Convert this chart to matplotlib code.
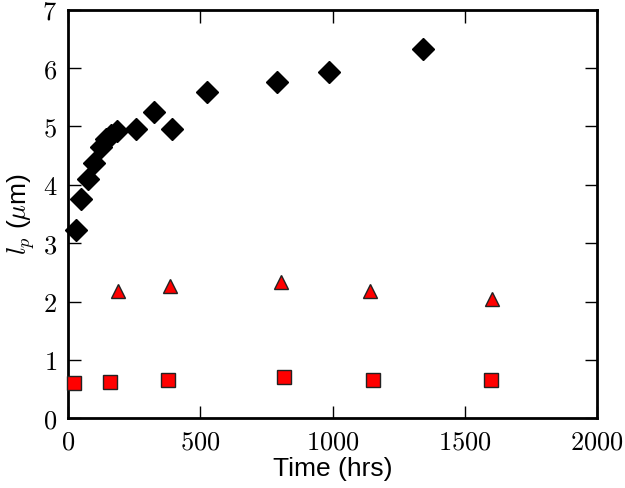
import matplotlib
matplotlib.use("Agg")
import matplotlib.pyplot as plt
from matplotlib.ticker import FuncFormatter, MultipleLocator

plt.rcParams["mathtext.fontset"] = "cm"

# Black diamonds
t_diamond = [30, 48, 77, 98, 123, 142, 161, 186, 255, 324, 393, 526, 790, 988, 1343]
lp_diamond = [3.23, 3.76, 4.10, 4.38, 4.65, 4.79, 4.85, 4.93, 4.95, 5.25, 4.96, 5.59, 5.77, 5.94, 6.33]

# Red triangles
t_triangle = [188, 385, 807, 1143, 1603]
lp_triangle = [2.18, 2.26, 2.33, 2.18, 2.05]

# Red squares
t_square = [22, 160, 376, 816, 1154, 1600]
lp_square = [0.60, 0.62, 0.65, 0.71, 0.65, 0.65]

fig = plt.figure(figsize=(6.25, 4.88), dpi=100, facecolor="white")
ax = fig.add_axes([0.109, 0.143, 0.846, 0.837])

ax.plot(t_diamond, lp_diamond, linestyle="none", marker="D", markersize=11,
        color="black", markeredgecolor="black", clip_on=False, zorder=3)
ax.plot(t_triangle, lp_triangle, linestyle="none", marker="^", markersize=10,
        color="red", markeredgecolor="#222222", markeredgewidth=1.0, zorder=3)
ax.plot(t_square, lp_square, linestyle="none", marker="s", markersize=10,
        color="red", markeredgecolor="#222222", markeredgewidth=1.0, clip_on=False, zorder=3)

ax.set_xlim(0, 2000)
ax.set_ylim(0, 7)
ax.xaxis.set_major_locator(MultipleLocator(500))
ax.yaxis.set_major_locator(MultipleLocator(1))
fmt = FuncFormatter(lambda v, _: f"${v:g}$")
ax.xaxis.set_major_formatter(fmt)
ax.yaxis.set_major_formatter(fmt)

for s in ax.spines.values():
    s.set_linewidth(2)
ax.tick_params(direction="in", length=9, width=1, top=True, right=True,
               labelsize=19, pad=8)

ax.set_xlabel("Time (hrs)", fontsize=19, family="Liberation Sans", labelpad=1)
ax.set_ylabel(r"$l_p$ ($\mu$m)", fontsize=19, family="Liberation Sans", labelpad=4)

fig.savefig("out.png", dpi=100, facecolor="white")
